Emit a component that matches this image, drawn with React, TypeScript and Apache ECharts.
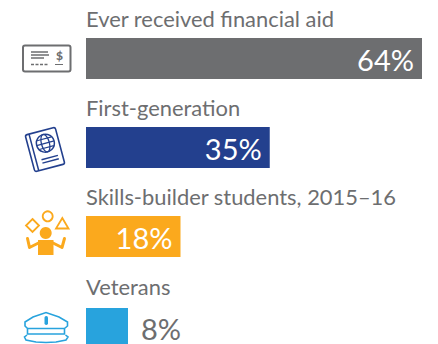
import React, { useEffect, useRef } from "react";
import * as echarts from "echarts";

const categories = ["Ever received financial aid", "First-generation", "Skills-builder students, 2015–16", "Veterans"];
const values = [64, 35, 18, 8];
const colors = ["#6D6E70", "#23408E", "#FBA91D", "#28A3DD"];
const barTops = [38, 127, 216, 308];
const labelBaselines = [29.5, 118.5, 207.5, 297.5];
const labelOffsets = [0.5, 0.5, 0.5, 2.5];
const FONT = "Lato";
const TEXT = "#6D6E70";

const icon = () => {
  const g = colors[0], b = colors[1], o = colors[2], c = colors[3];
  const line = (x1: number, y1: number, x2: number, y2: number, stroke: string, lineWidth = 1.5, extra: any = {}) => ({
    type: "line", shape: { x1, y1, x2, y2 }, style: { stroke, lineWidth, ...extra },
  });
  return [
    { type: "rect", shape: { x: 23, y: 45.5, width: 47.5, height: 26, r: 2 }, style: { fill: "none", stroke: g, lineWidth: 2 } },
    line(31, 52, 48, 52, g), line(31, 55, 49, 55, g), line(31, 58, 44, 58, g),
    line(31, 64.5, 48, 64.5, g, 1.5, { lineDash: [3, 1.5] }),
    line(55, 64.5, 63, 64.5, g, 1),
    { type: "text", x: 59.5, y: 55, style: { text: "$", fill: g, font: `900 12px ${FONT}`, align: "center", verticalAlign: "middle" } },
    {
      type: "group", x: 45, y: 149.5, rotation: 0.26,
      children: [
        { type: "rect", shape: { x: -15.5, y: -19, width: 31, height: 38, r: 2 }, style: { fill: "none", stroke: b, lineWidth: 1.6 } },
        line(-11.5, -19, -11.5, 19, b),
        { type: "circle", shape: { cx: 2, cy: -6, r: 9 }, style: { fill: "none", stroke: b, lineWidth: 1.5 } },
        { type: "ellipse", shape: { cx: 2, cy: -6, rx: 4, ry: 9 }, style: { fill: "none", stroke: b, lineWidth: 1.3 } },
        line(-7, -6, 11, -6, b, 1.3), line(-5.5, -10.5, 9.5, -10.5, b, 1.2), line(-5.5, -1.5, 9.5, -1.5, b, 1.2),
        line(-6, 9, 11, 9, b), line(-6, 12.5, 11, 12.5, b),
      ],
    },
    { type: "circle", shape: { cx: 47.7, cy: 216.3, r: 5 }, style: { fill: "none", stroke: o, lineWidth: 1.8 } },
    { type: "polygon", shape: { points: [[32.5, 219], [39, 225.5], [32.5, 232], [26, 225.5]] }, style: { fill: "none", stroke: o, lineWidth: 1.8 } },
    { type: "polygon", shape: { points: [[62.3, 218], [68.5, 228.5], [56, 228.5]] }, style: { fill: "none", stroke: o, lineWidth: 1.8 } },
    { type: "circle", shape: { cx: 45.7, cy: 233, r: 6 }, style: { fill: o } },
    { type: "polygon", shape: { points: [[38, 240], [53.5, 240], [53.5, 255], [38, 255]] }, style: { fill: o } },
    { type: "polyline", shape: { points: [[27.5, 238.5], [29.5, 247.5], [38.5, 243]] }, style: { fill: "none", stroke: o, lineWidth: 3, lineCap: "round", lineJoin: "round" } },
    { type: "polyline", shape: { points: [[64.5, 238.5], [62, 247.5], [53, 243]] }, style: { fill: "none", stroke: o, lineWidth: 3, lineCap: "round", lineJoin: "round" } },
    { type: "polygon", shape: { points: [[25, 322], [33, 317], [46, 312.5], [59, 317], [67.5, 322], [67.5, 326], [64.5, 328.5], [64.5, 334], [27.5, 334], [27.5, 328.5], [25, 326]] }, style: { fill: "none", stroke: c, lineWidth: 1.6 } },
    line(27.5, 328.5, 64.5, 328.5, c, 1.6),
    { type: "polyline", shape: { points: [[27, 335], [24.5, 337], [26, 340], [36, 342], [46, 342.5], [56, 342], [66, 340], [68, 337], [65.5, 335]] }, style: { fill: "none", stroke: c, lineWidth: 1.6 } },
    { type: "rect", shape: { x: 44.5, y: 316, width: 3.5, height: 9, r: 1.7 }, style: { fill: c } },
  ];
};

export default function App() {
  const ref = useRef<HTMLDivElement>(null);
  useEffect(() => {
    document.body.style.margin = "0";
    const chart = echarts.init(ref.current!, null, { renderer: "svg" });
    chart.setOption({
      animation: false,
      grid: barTops.map((top) => ({ left: 86, top, width: 346.5, height: 41 })),
      xAxis: barTops.map((_, i) => ({ type: "value", gridIndex: i, min: 0, max: 66, show: false })),
      yAxis: barTops.map((_, i) => ({ type: "category", gridIndex: i, data: [categories[i]], show: false })),
      series: values.map((v, i) => ({
        type: "bar",
        xAxisIndex: i,
        yAxisIndex: i,
        data: [v],
        barWidth: 41,
        silent: true,
        itemStyle: { color: colors[i] },
        label: {
          show: true,
          position: i < 3 ? "insideRight" : "right",
          distance: i < 3 ? 8 : 13,
          offset: [0, labelOffsets[i]],
          formatter: "{c}%",
          color: i < 3 ? "#FFFFFF" : TEXT,
          fontFamily: FONT,
          fontSize: 29,
          lineHeight: 24,
        },
      })),
      graphic: [
        ...categories.map((t, i) => ({
          type: "text", x: 86, y: labelBaselines[i],
          style: { text: t, fill: TEXT, font: `21.9px ${FONT}`, verticalAlign: "bottom", align: "left" },
        })),
        ...icon(),
      ],
    });
    return () => chart.dispose();
  }, []);
  return <div ref={ref} style={{ width: 438, height: 344 }} />;
}
